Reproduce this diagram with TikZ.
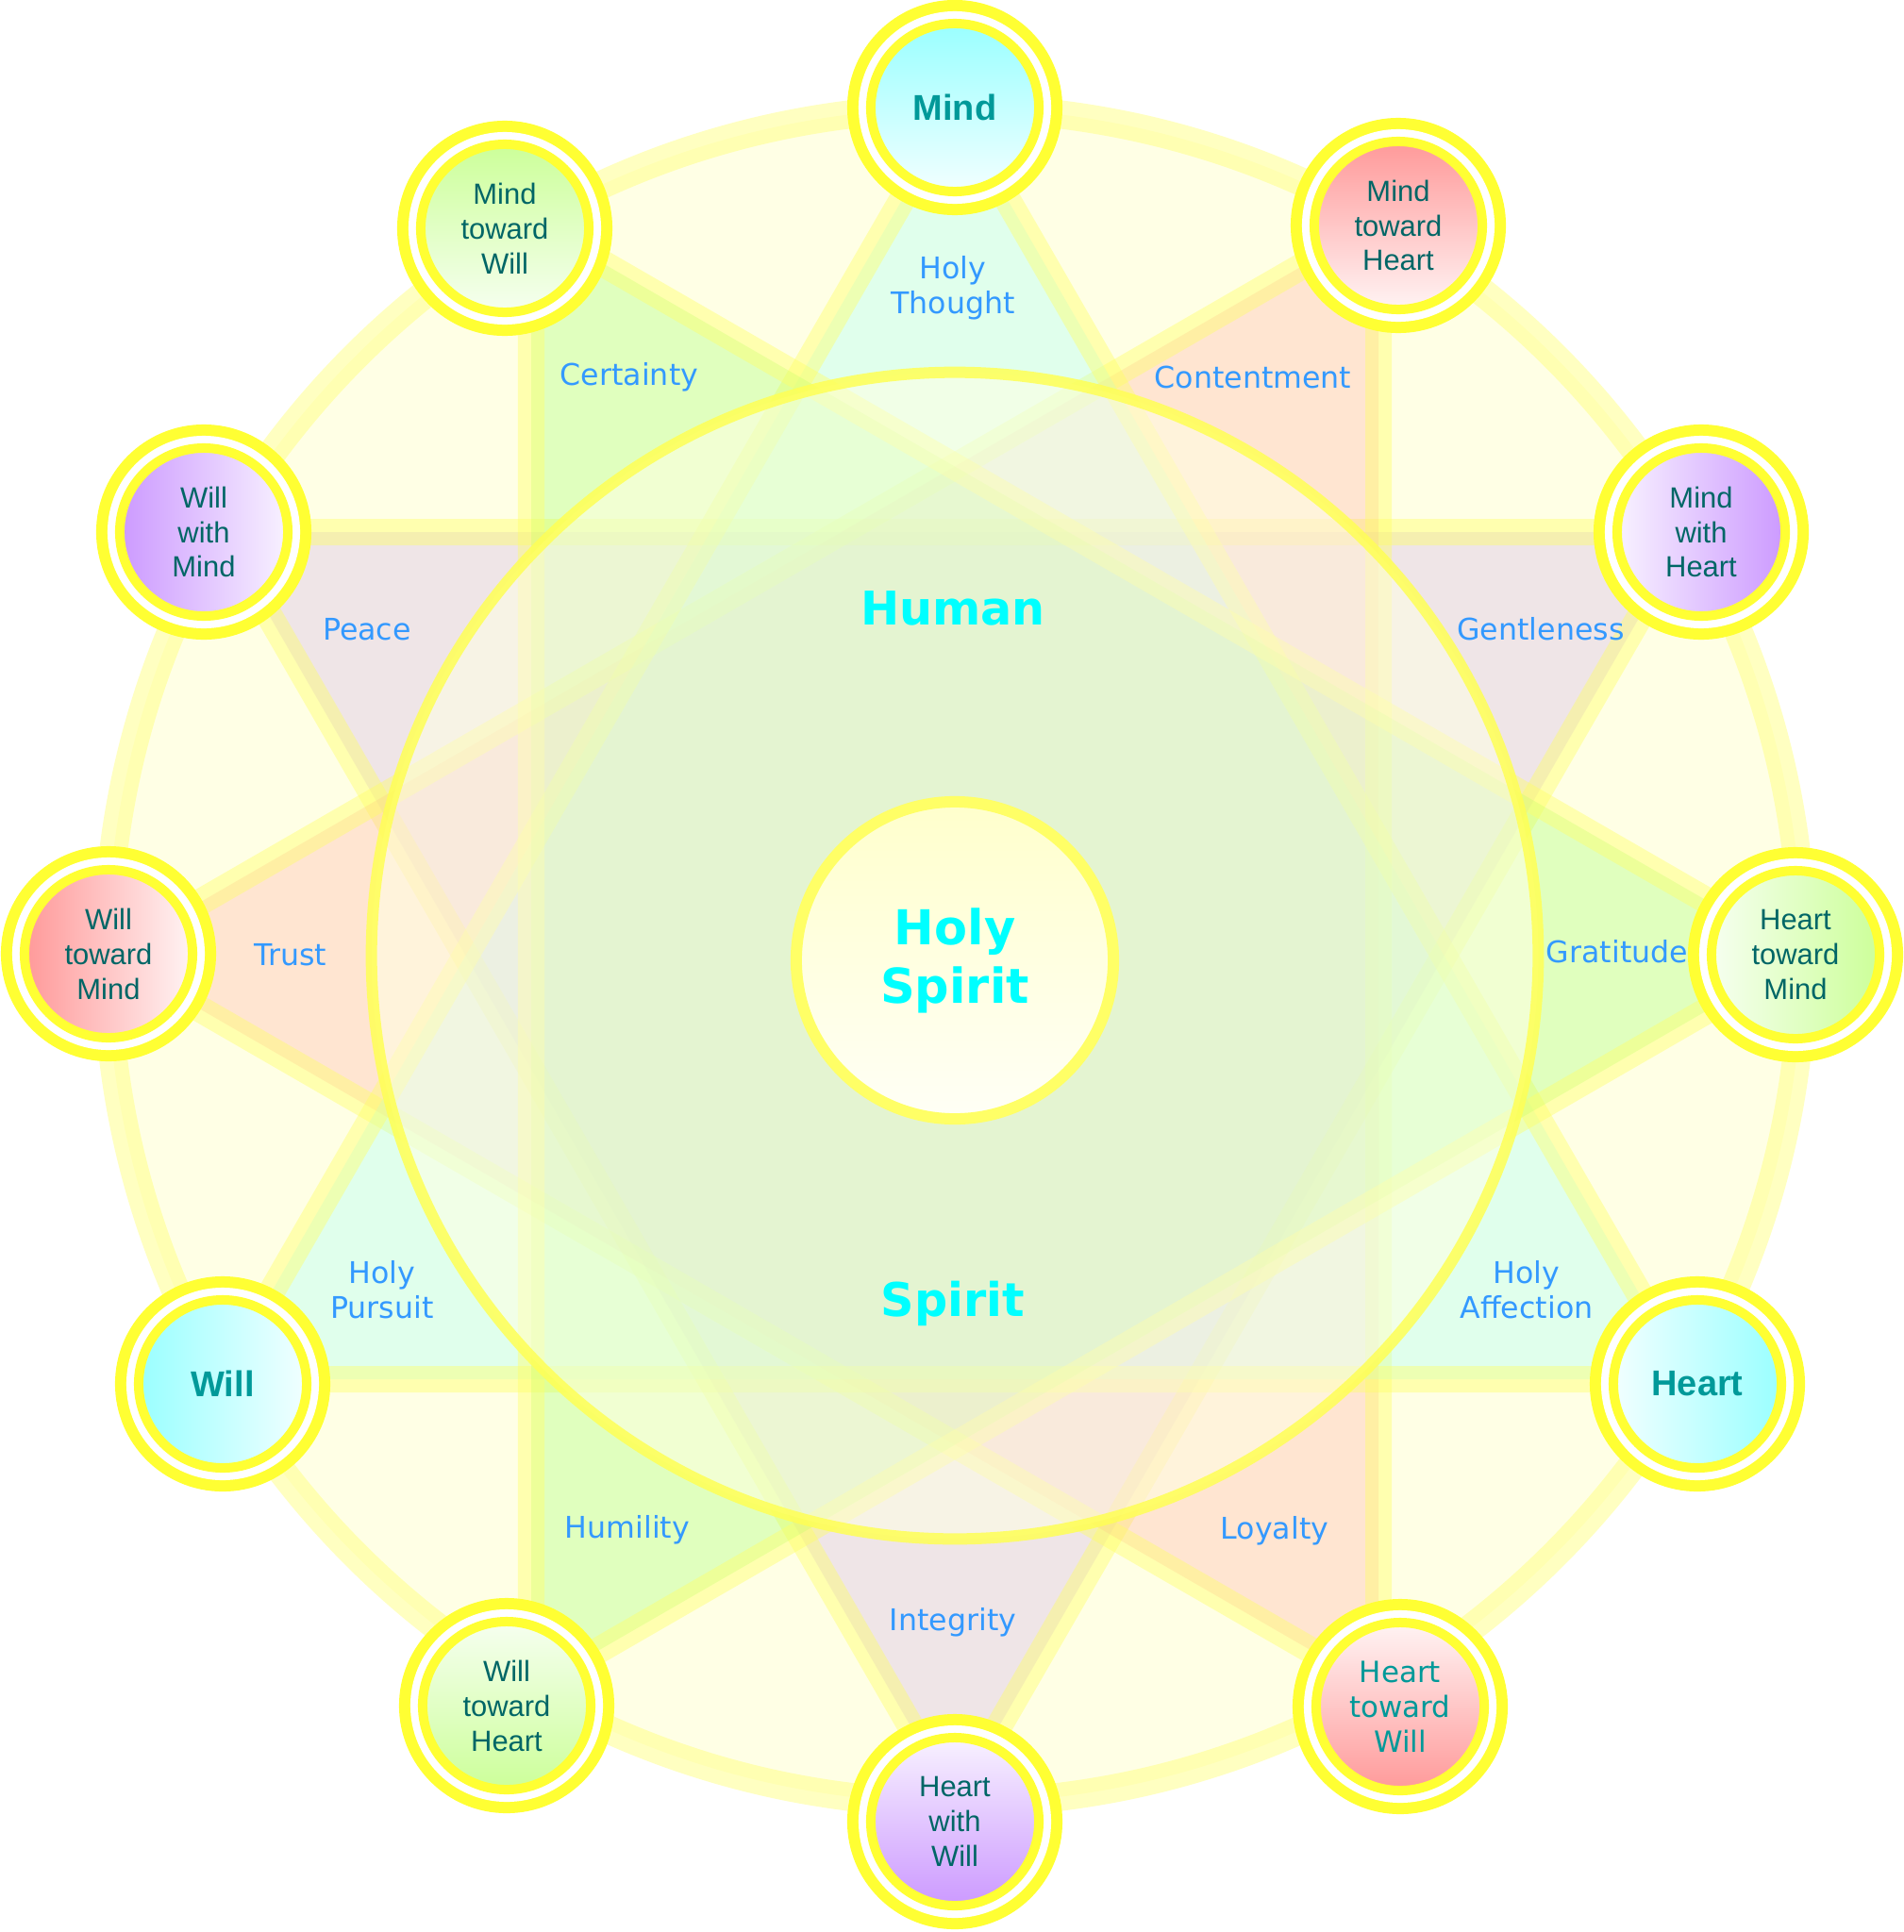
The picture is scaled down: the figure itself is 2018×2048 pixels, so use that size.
\documentclass[tikz,border=0pt]{standalone}
\usepackage{fontspec}
\newfontfamily\arialf{Liberation Sans}
\newfontfamily\verdf{DejaVu Sans}
\definecolor{ringY}{HTML}{FFFF33}
\definecolor{paleY}{HTML}{FFFFCC}
\definecolor{lineY}{HTML}{FFFF66}
\definecolor{innerY}{HTML}{FFFF55}
\definecolor{innerF}{HTML}{FFFFE4}
\definecolor{triA}{HTML}{99FFFF}
\definecolor{triB}{HTML}{CCAAEE}
\definecolor{triC}{HTML}{99FF66}
\definecolor{triD}{HTML}{FF9999}
\definecolor{lblue}{HTML}{3399FF}
\definecolor{tdark}{HTML}{006666}
\definecolor{tmid}{HTML}{009999}
\definecolor{hsCyan}{HTML}{00FFFF}
\definecolor{nCyan}{HTML}{99FFFF}
\definecolor{wCyan}{HTML}{F2FFFF}
\definecolor{nSalmon}{HTML}{FF9999}
\definecolor{wSalmon}{HTML}{FFF4F4}
\definecolor{nPurple}{HTML}{CC99FF}
\definecolor{wPurple}{HTML}{F8F2FF}
\definecolor{nGreen}{HTML}{CCFF99}
\definecolor{wGreen}{HTML}{F6FFF0}
\definecolor{hsTop}{HTML}{FFFFCC}
\definecolor{hsBot}{HTML}{FFFFF6}
\begin{document}
\begin{tikzpicture}[x=0.01cm, y=-0.01cm,
  tri/.style={draw=lineY, draw opacity=0.42, line width=0.28cm, line join=round},
  orb/.style={circle, inner sep=0pt, minimum size=1.78cm, draw=ringY, line width=0.10cm, align=center,
    preaction={draw=ringY, line width=0.50cm},
    preaction={draw=white, line width=0.26cm},
    font=\arialf\fontsize{8.8pt}{10.5pt}\selectfont, text=tdark},
  mainorb/.style={orb, font=\arialf\bfseries\fontsize{10.8pt}{12pt}\selectfont, text=tmid},
  lbl/.style={font=\verdf\fontsize{9pt}{10.5pt}\selectfont, text=lblue, align=center, inner sep=0pt},
  big/.style={font=\verdf\bfseries\fontsize{14pt}{17.6pt}\selectfont, text=hsCyan, align=center, inner sep=0pt}]
\useasboundingbox (0,0) rectangle (2018,2048);
\fill[white] (0,0) rectangle (2018,2048);
\coordinate (O) at (1012,1013);
% outer ring
\path[fill=paleY, fill opacity=0.5, draw=lineY, draw opacity=0.4, line width=0.30cm] (O) circle[radius=8.98cm];
% triangle vertices
\coordinate (v0) at (1910,1013);
\coordinate (v30) at (1789.7,564);
\coordinate (v60) at (1461,235.3);
\coordinate (v90) at (1012,115);
\coordinate (v120) at (563,235.3);
\coordinate (v150) at (234.3,564);
\coordinate (v180) at (114,1013);
\coordinate (v210) at (234.3,1462);
\coordinate (v240) at (563,1790.7);
\coordinate (v270) at (1012,1911);
\coordinate (v300) at (1461,1790.7);
\coordinate (v330) at (1789.7,1462);
% triangles
\path[tri, fill=triB, fill opacity=0.3] (v30) -- (v150) -- (v270) -- cycle;
\path[tri, fill=triD, fill opacity=0.25] (v60) -- (v180) -- (v300) -- cycle;
\path[tri, fill=triA, fill opacity=0.3] (v90) -- (v210) -- (v330) -- cycle;
\path[tri, fill=triC, fill opacity=0.3] (v120) -- (v240) -- (v0) -- cycle;
% inner circle
\path[fill=innerF, fill opacity=0.55, draw=innerY, draw opacity=0.85, line width=0.12cm] (O) circle[radius=6.18cm];
% centre
\node[circle, inner sep=0pt, minimum size=3.36cm, draw=lineY, line width=0.12cm,
  top color=hsTop, bottom color=hsBot, big, font=\verdf\bfseries\fontsize{14.5pt}{17.6pt}\selectfont] (hs) at (1012,1018) {Holy\\Spirit};
\node[big] (human) at (1010,645) {Human};
\node[big] (spirit) at (1010,1382) {Spirit};
% labels
\node[lbl] (lthought) at (1010,305) {Holy\\Thought};
\node[lbl] (lcert) at (667,400) {Certainty};
\node[lbl] (lcont) at (1328,400) {Contentment};
\node[lbl] (lpeace) at (389,667) {Peace};
\node[lbl] (lgent) at (1633,667) {Gentleness};
\node[lbl] (ltrust) at (308,1012) {Trust};
\node[lbl] (lgrat) at (1714,1009) {Gratitude};
\node[lbl] (lpursuit) at (405,1367) {Holy\\Pursuit};
\node[lbl] (laffect) at (1618,1367) {Holy\\Affection};
\node[lbl] (lhum) at (665,1622) {Humility};
\node[lbl] (lloy) at (1351,1623) {Loyalty};
\node[lbl] (linteg) at (1010,1720) {Integrity};
% outer nodes
\node[mainorb, top color=nCyan, bottom color=wCyan] (mind) at (1012,114) {Mind};
\node[orb, top color=nSalmon, bottom color=wSalmon] (mth) at (1482,239) {Mind\\toward\\Heart};
\node[orb, left color=wPurple, right color=nPurple] (mwh) at (1803,564) {Mind\\with\\Heart};
\node[orb, left color=wGreen, right color=nGreen] (htm) at (1903,1012) {Heart\\toward\\Mind};
\node[mainorb, left color=wCyan, right color=nCyan] (heart) at (1799,1467) {Heart};
\node[orb, top color=wSalmon, bottom color=nSalmon, font=\verdf\fontsize{8.8pt}{10.5pt}\selectfont, text=tmid] (htw) at (1484,1809) {Heart\\toward\\Will};
\node[orb, top color=wPurple, bottom color=nPurple] (hww) at (1012,1931) {Heart\\with\\Will};
\node[orb, top color=wGreen, bottom color=nGreen] (wth) at (537,1808) {Will\\toward\\Heart};
\node[mainorb, left color=nCyan, right color=wCyan] (will) at (236,1467) {Will};
\node[orb, left color=nSalmon, right color=wSalmon] (wtm) at (115,1011) {Will\\toward\\Mind};
\node[orb, left color=nPurple, right color=wPurple] (wwm) at (216,564) {Will\\with\\Mind};
\node[orb, top color=nGreen, bottom color=wGreen] (mtw) at (535,242) {Mind\\toward\\Will};
\end{tikzpicture}
\end{document}
